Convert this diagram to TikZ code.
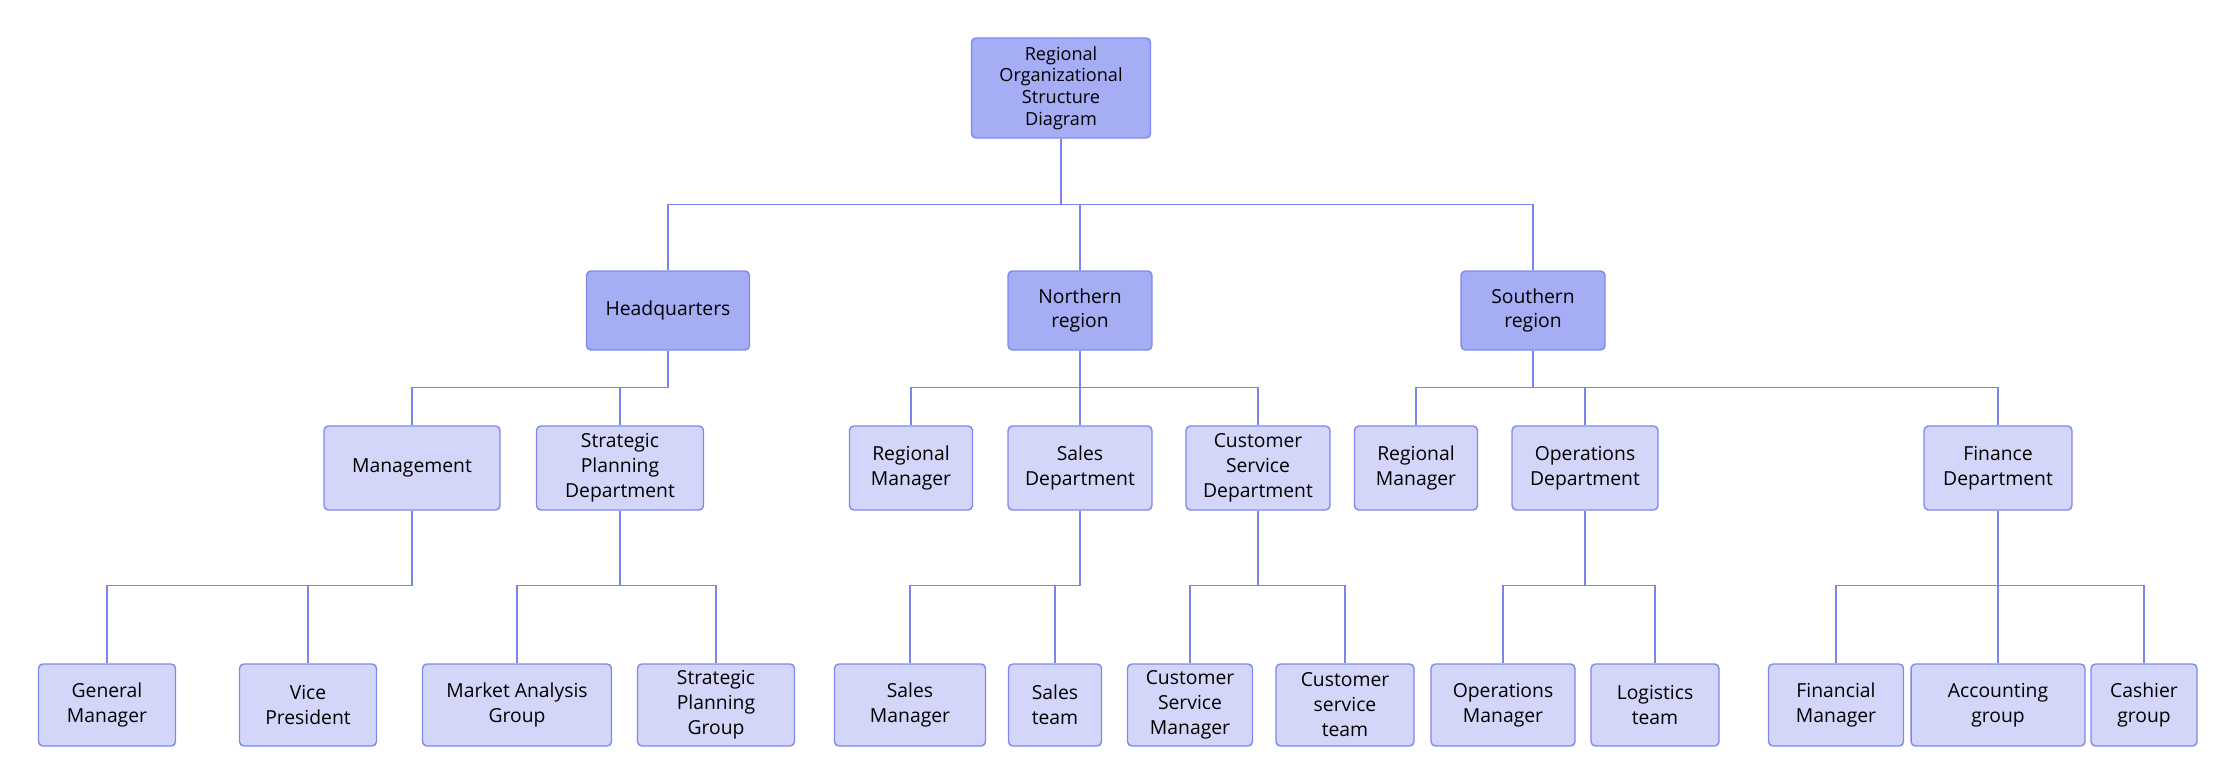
\documentclass[tikz,border=0pt]{standalone}
\usepackage{fontspec}
\setmainfont{Open Sans}
\usetikzlibrary{positioning}

\definecolor{deepfill}{HTML}{A5ADF4}
\definecolor{palefill}{HTML}{D3D6F8}
\definecolor{boxline}{HTML}{7E88EE}
\definecolor{linkcol}{HTML}{7A84EE}

\begin{document}
\begin{tikzpicture}[
  x=0.02cm, y=-0.02cm,
  box/.style = {
    draw=boxline, rectangle, rounded corners=2.5pt, line width=0.8pt,
    align=center, inner sep=0pt,
    font=\fontsize{11}{14.2}\selectfont
  },
  head/.style = {box, fill=deepfill, minimum height=1.58cm},
  unit/.style = {box, fill=palefill, minimum height=1.68cm},
  leaf/.style = {box, fill=palefill, minimum height=1.64cm},
  link/.style = {draw=linkcol, line width=0.8pt}
]
\useasboundingbox (0,0) rectangle (2233,783);

% top
\node[box, fill=deepfill, minimum width=3.58cm, minimum height=2.0cm,
  font=\fontsize{10.3}{12.3}\selectfont] (top) at (1061,88)
  {Regional\\ Organizational\\ Structure\\ Diagram};

% regions
\node[head, minimum width=3.26cm] (hq) at (668,310.5) {Headquarters};
\node[head, minimum width=2.88cm] (north) at (1080,310.5) {Northern\\ region};
\node[head, minimum width=2.88cm] (south) at (1533,310.5) {Southern\\ region};

% departments
\node[unit, minimum width=3.52cm] (mgmt) at (412,468) {Management};
\node[unit, minimum width=3.34cm] (spd) at (620,468) {Strategic\\ Planning\\ Department};
\node[unit, minimum width=2.46cm] (nrm) at (911,468) {Regional\\ Manager};
\node[unit, minimum width=2.88cm] (sales) at (1080,468) {Sales\\ Department};
\node[unit, minimum width=2.88cm] (csd) at (1258,468) {Customer\\ Service\\ Department};
\node[unit, minimum width=2.46cm] (srm) at (1416,468) {Regional\\ Manager};
\node[unit, minimum width=2.92cm] (ops) at (1585,468) {Operations\\ Department};
\node[unit, minimum width=2.96cm] (fin) at (1998,468) {Finance\\ Department};

% groups
\node[leaf, minimum width=2.74cm] (gm) at (107,705) {General\\ Manager};
\node[leaf, minimum width=2.74cm] (vp) at (308,705) {Vice\\ President};
\node[leaf, minimum width=3.78cm] (mag) at (517,705) {Market Analysis\\ Group};
\node[leaf, minimum width=3.14cm] (spg) at (716,705) {Strategic\\ Planning\\ Group};
\node[leaf, minimum width=3.02cm] (sm) at (910,705) {Sales\\ Manager};
\node[leaf, minimum width=1.86cm] (st) at (1055,705) {Sales\\ team};
\node[leaf, minimum width=2.50cm] (csm) at (1190,705) {Customer\\ Service\\ Manager};
\node[leaf, minimum width=2.76cm] (cst) at (1345,705) {Customer\\ service\\ team};
\node[leaf, minimum width=2.88cm] (om) at (1503,705) {Operations\\ Manager};
\node[leaf, minimum width=2.56cm] (lt) at (1655,705) {Logistics\\ team};
\node[leaf, minimum width=2.70cm] (fm) at (1836,705) {Financial\\ Manager};
\node[leaf, minimum width=3.48cm] (ag) at (1998,705) {Accounting\\ group};
\node[leaf, minimum width=2.12cm] (cg) at (2144,705) {Cashier\\ group};

% connectors
\foreach \kid in {hq,north,south}
  \draw[link] (top.south) -- ++(0,66) -| (\kid.north);
\foreach \kid in {mgmt,spd}
  \draw[link] (hq.south) -- ++(0,37) -| (\kid.north);
\foreach \kid in {nrm,sales,csd}
  \draw[link] (north.south) -- ++(0,37) -| (\kid.north);
\foreach \kid in {srm,ops,fin}
  \draw[link] (south.south) -- ++(0,37) -| (\kid.north);
\foreach \kid in {gm,vp}
  \draw[link] (mgmt.south) -- ++(0,75) -| (\kid.north);
\foreach \kid in {mag,spg}
  \draw[link] (spd.south) -- ++(0,75) -| (\kid.north);
\foreach \kid in {sm,st}
  \draw[link] (sales.south) -- ++(0,75) -| (\kid.north);
\foreach \kid in {csm,cst}
  \draw[link] (csd.south) -- ++(0,75) -| (\kid.north);
\foreach \kid in {om,lt}
  \draw[link] (ops.south) -- ++(0,75) -| (\kid.north);
\foreach \kid in {fm,ag,cg}
  \draw[link] (fin.south) -- ++(0,75) -| (\kid.north);

\end{tikzpicture}
\end{document}
